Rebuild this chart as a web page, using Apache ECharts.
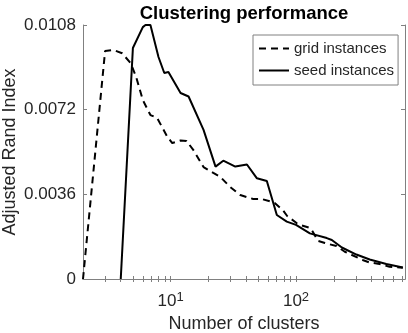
<!DOCTYPE html>
<html>
<head>
<meta charset="utf-8">
<script src="https://cdn.jsdelivr.net/npm/echarts@6/dist/echarts.min.js"></script>
<style>
  html, body { margin: 0; padding: 0; background: #fff; }
  #grafico { width: 408px; height: 333px; }
</style>
</head>
<body>
<div id="grafico"></div>
<script>
// values
var gridX = [2, 3, 3.5, 4.1, 4.8, 5.3, 6, 6.9, 7.8, 9.4, 10.3, 12, 13.4, 15.2, 18.3, 21.9, 24.9, 29.9, 35.9, 45.6, 53.5, 62, 68, 79, 85, 101, 108, 129, 136, 150, 170, 210, 245, 340, 387, 464, 557, 711];
var gridY = [0, 0.00969, 0.00974, 0.0096, 0.00918, 0.0086, 0.00761, 0.00697, 0.00685, 0.00605, 0.00578, 0.00589, 0.00587, 0.00548, 0.00476, 0.00451, 0.00434, 0.00391, 0.00357, 0.0034, 0.0034, 0.0033, 0.00322, 0.00291, 0.00268, 0.00238, 0.0023, 0.00217, 0.00201, 0.00162, 0.00153, 0.0014, 0.00116, 0.00081, 0.0007, 0.00064, 0.00052, 0.00048];
var seedX = [4, 5, 6, 6.3, 6.9, 8, 8.9, 9.6, 12, 13.9, 18.3, 22.8, 26.3, 32.8, 40.6, 48.8, 58.5, 70.3, 84.4, 100, 129, 176, 193, 232, 303, 387, 525, 711];
var seedY = [0, 0.00982, 0.01071, 0.0108, 0.0108, 0.00944, 0.00876, 0.0088, 0.00791, 0.00776, 0.00634, 0.00478, 0.00503, 0.00478, 0.00487, 0.00428, 0.00417, 0.00272, 0.00244, 0.0023, 0.00194, 0.00174, 0.00166, 0.00134, 0.00104, 0.00083, 0.00064, 0.00049];
var nomes = ['grid instances', 'seed instances'];
var xTicks = [3, 4, 5, 6, 7, 8, 9, 10, 20, 30, 40, 50, 60, 70, 80, 90, 100, 200, 300, 400, 500, 600, 700];
var xLabels = [10, 100];
var yTicks = [0, 0.0036, 0.0072, 0.0108];

function pares(xs, ys) {
  var out = [];
  for (var i = 0; i < xs.length; i++) out.push([xs[i], ys[i]]);
  return out;
}

var cinza = '#808080';
var texto = '#262626';
var fonte = 'Liberation Sans, Arial, sans-serif';

var myChart = echarts.init(document.getElementById('grafico'));
var option = {
  animation: false,
  title: {
    text: 'Clustering performance',
    left: 244,
    top: 4,
    padding: 0,
    textAlign: 'center',
    textStyle: { fontSize: 18.5, fontWeight: 'bold', color: '#000', fontFamily: fonte }
  },
  grid: { left: 83, right: 3, top: 25, bottom: 54, outerBoundsMode: 'none' },
  legend: {
    data: nomes,
    orient: 'vertical',
    left: 253,
    top: 35,
    padding: [6, 4, 7, 5],
    itemWidth: 30,
    itemHeight: 14,
    itemGap: 7,
    borderColor: cinza,
    borderWidth: 1,
    backgroundColor: '#fff',
    itemStyle: { opacity: 0 },
    textStyle: { fontSize: 15, color: texto, fontFamily: fonte }
  },
  xAxis: [
    {
      type: 'log',
      logBase: 10,
      min: 2,
      max: 740,
      position: 'bottom',
      name: 'Number of clusters',
      nameLocation: 'middle',
      nameGap: 36,
      nameMoveOverlap: false,
      nameTextStyle: { fontSize: 18, color: texto, fontFamily: fonte },
      splitLine: { show: false },
      axisLine: { lineStyle: { color: cinza, width: 1 } },
      axisTick: { inside: true, length: 3, customValues: xTicks, lineStyle: { color: cinza } },
      axisLabel: {
        customValues: xLabels,
        margin: 12,
        formatter: function (v) {
          var e = Math.round(Math.log10(v));
          if (Math.abs(Math.pow(10, e) - v) > 1e-6) return '';
          return '{b|10}{s|' + e + '}';
        },
        rich: {
          b: { fontSize: 17, lineHeight: 20, color: texto, fontFamily: fonte },
          s: { fontSize: 13, lineHeight: 10, verticalAlign: 'top', color: texto, fontFamily: fonte }
        }
      }
    },
    {
      type: 'log',
      logBase: 10,
      min: 2,
      max: 740,
      position: 'top',
      splitLine: { show: false },
      axisLine: { lineStyle: { color: cinza, width: 1 } },
      axisTick: { inside: true, length: 3, customValues: xTicks, lineStyle: { color: cinza } },
      axisLabel: { show: false }
    }
  ],
  yAxis: [
    {
      type: 'value',
      min: 0,
      max: 0.0108,
      interval: 0.0036,
      position: 'left',
      name: 'Adjusted Rand Index',
      nameLocation: 'middle',
      nameGap: 64,
      nameMoveOverlap: false,
      nameTextStyle: { fontSize: 18, color: texto, fontFamily: fonte },
      splitLine: { show: false },
      axisLine: { show: true, lineStyle: { color: cinza, width: 1 } },
      axisTick: { show: true, inside: true, length: 4, customValues: yTicks, lineStyle: { color: cinza } },
      axisLabel: { margin: 7, fontSize: 17, color: texto, fontFamily: fonte }
    },
    {
      type: 'value',
      min: 0,
      max: 0.0108,
      interval: 0.0036,
      position: 'right',
      splitLine: { show: false },
      axisLine: { show: true, lineStyle: { color: cinza, width: 1 } },
      axisTick: { show: true, inside: true, length: 4, lineStyle: { color: cinza } },
      axisLabel: { show: false }
    }
  ],
  series: [
    {
      name: nomes[0],
      type: 'line',
      xAxisIndex: 0,
      yAxisIndex: 0,
      data: pares(gridX, gridY),
      symbol: 'none',
      lineStyle: { color: '#000', width: 2, type: [7, 5] },
      itemStyle: { color: '#000' }
    },
    {
      name: nomes[1],
      type: 'line',
      xAxisIndex: 0,
      yAxisIndex: 0,
      data: pares(seedX, seedY),
      symbol: 'none',
      lineStyle: { color: '#000', width: 2, type: 'solid' },
      itemStyle: { color: '#000' }
    }
  ]
};

option && myChart.setOption(option);
</script>
</body>
</html>
